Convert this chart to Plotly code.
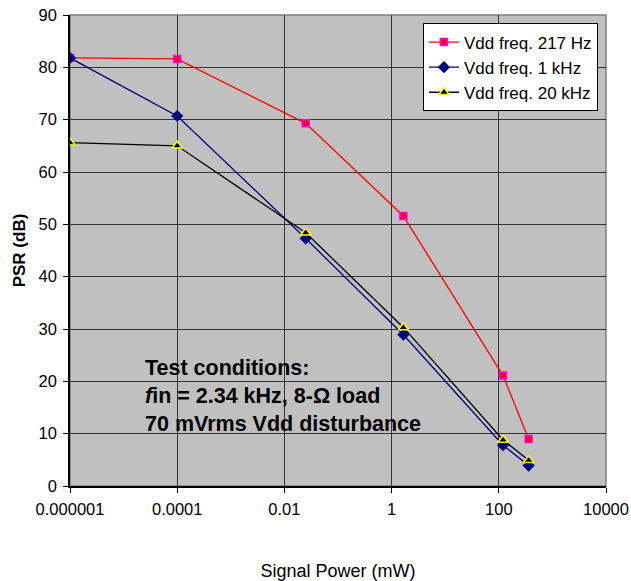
import plotly.graph_objects as go

# Data
signal_power_mw = [0.000001, 0.0001, 0.025, 1.66, 120, 360]
psr_217hz = [81.8, 81.6, 69.3, 51.6, 21.1, 9.0]
psr_1khz = [81.8, 70.7, 47.3, 28.9, 7.8, 3.9]
psr_20khz = [65.6, 65.0, 48.4, 30.3, 8.8, 4.9]

x_tick_vals = [0.000001, 0.0001, 0.01, 1, 100, 10000]
x_tick_text = ["0.000001", "0.0001", "0.01", "1", "100", "10000"]
y_tick_vals = [0, 10, 20, 30, 40, 50, 60, 70, 80, 90]

FONT = "Liberation Sans, Arial, sans-serif"

fig = go.Figure()
fig.add_trace(go.Scatter(
    x=signal_power_mw, y=psr_217hz, mode="lines+markers", name="Vdd freq. 217 Hz",
    legendgroup="a",
    line=dict(color="#FF0000", width=1.3),
    marker=dict(symbol="square", size=7, color="#FF0000", line=dict(color="#FF00FF", width=1.5)),
))
fig.add_trace(go.Scatter(
    x=signal_power_mw, y=psr_1khz, mode="lines+markers", name="Vdd freq. 1 kHz",
    legendgroup="b",
    line=dict(color="#000080", width=1.3),
    marker=dict(symbol="diamond", size=9, color="#000080", line=dict(color="#000080", width=0.5)),
))
fig.add_trace(go.Scatter(
    x=signal_power_mw, y=psr_20khz, mode="lines+markers", name="Vdd freq. 20 kHz",
    legendgroup="c",
    line=dict(color="#000000", width=1.3),
    marker=dict(symbol="triangle-up", size=9, color="#000000", line=dict(color="#FFFF00", width=1.5)),
))

fig.add_shape(type="rect", xref="paper", yref="paper", x0=0, y0=0, x1=1, y1=1,
              line=dict(color="#808080", width=1.5), layer="below")

fig.add_annotation(
    xref="paper", yref="paper", x=0.136, y=0.191, xanchor="left", yanchor="middle",
    align="left", showarrow=False,
    text="<b>Test conditions:<br><i>f</i>in = 2.34 kHz, 8-Ω load<br>70 mVrms Vdd disturbance</b>",
    font=dict(family=FONT, size=21.5, color="#000000"),
)

fig.update_layout(
    width=631, height=581,
    margin=dict(l=70, r=25, t=15, b=95),
    paper_bgcolor="#FFFFFF",
    plot_bgcolor="#C0C0C0",
    font=dict(family=FONT, size=16, color="#000000"),
    showlegend=True,
    legend=dict(
        x=0.985, y=0.982, xanchor="right", yanchor="top",
        bgcolor="#FFFFFF", bordercolor="#000000", borderwidth=1,
        font=dict(family=FONT, size=17, color="#000000"),
        tracegroupgap=0,
    ),
    xaxis=dict(
        type="log", range=[-6, 4], automargin=False,
        tickvals=x_tick_vals, ticktext=x_tick_text,
        showgrid=True, gridcolor="#333333", gridwidth=1,
        showline=True, linecolor="#000000", linewidth=1.5,
        ticks="outside", ticklen=5, tickcolor="#000000",
        ticklabelstandoff=2,
        tickfont=dict(family=FONT, size=16.5),
        title=dict(text="Signal Power (mW)", font=dict(family=FONT, size=18), standoff=49),
        zeroline=False,
    ),
    yaxis=dict(
        range=[0, 90], tickvals=y_tick_vals, automargin=False,
        showgrid=True, gridcolor="#333333", gridwidth=1,
        showline=True, linecolor="#000000", linewidth=1.5,
        ticks="outside", ticklen=5, tickcolor="#000000",
        ticklabelstandoff=3,
        tickfont=dict(family=FONT, size=16.5),
        title=dict(text="<b>PSR (dB)</b>", font=dict(family=FONT, size=17), standoff=9),
        zeroline=False,
    ),
)

fig.write_html("out.html", config={"displayModeBar": False},
               post_script="document.body.style.margin='0';document.body.style.padding='0';")
